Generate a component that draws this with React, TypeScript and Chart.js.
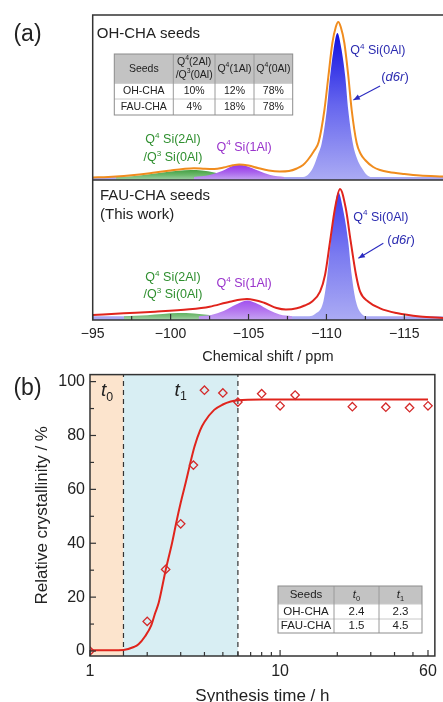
import React, { useEffect, useRef } from "react";
import { Chart, registerables } from "chart.js";
Chart.register(...registerables);

const FONT = 'Arial, "Liberation Sans", Helvetica, sans-serif';
const INK = "#222222";
const FRAME = "#333333";
const RED = "#e0241c";

// ---------- Panel (a): 29Si MAS NMR spectra, [ppm, intensity (a.u.)] ----------
type P = [number, number];
const OH_TOTAL: P[] = [
  [-95, 2.5], [-96, 3], [-97, 4], [-98, 5.5], [-99, 7.5], [-100, 9.5], [-100.8, 11], [-101.5, 11.8],
  [-102.2, 11.2], [-102.8, 11], [-103.4, 12.5], [-104, 14.8], [-104.4, 15.6], [-105, 14.5], [-105.6, 12],
  [-106.3, 9.5], [-107, 8.5], [-107.6, 9], [-108.1, 11.5], [-108.5, 15], [-108.8, 20], [-109.2, 29],
  [-109.5, 38], [-109.87, 70], [-110.12, 103], [-110.38, 137], [-110.6, 153], [-110.76, 158], [-110.92, 153],
  [-111.15, 137], [-111.41, 103], [-111.62, 70], [-111.94, 37], [-112.2, 26], [-112.48, 20], [-113, 13],
  [-113.44, 10], [-114, 8], [-115, 6], [-116, 4.5], [-117.5, 3.5],
];
const OH_SI0AL: P[] = [
  [-95, 3], [-108.4, 3], [-108.8, 5], [-109.16, 13], [-109.45, 25], [-109.7, 37], [-110.02, 70],
  [-110.23, 103], [-110.45, 130], [-110.7, 147], [-110.95, 132], [-111.21, 103], [-111.4, 70],
  [-111.69, 37], [-111.95, 22], [-112.27, 12], [-112.6, 5], [-112.9, 3], [-117.5, 3],
];
const OH_SI1AL: P[] = [
  [-101.5, 3], [-102.5, 5], [-103.3, 9], [-103.9, 13.5], [-104.3, 15.5], [-104.9, 13.8], [-105.6, 9.5],
  [-106.4, 5], [-107.3, 3],
];
const OH_SI2AL: P[] = [
  [-96.5, 3], [-97.5, 3.8], [-98.5, 5.5], [-99.5, 7.5], [-100.5, 9.3], [-101.3, 10], [-102, 9.5],
  [-102.8, 7.5], [-103.5, 5], [-104.3, 3.5], [-105, 3],
];
const FAU_TOTAL: P[] = [
  [-95, 5], [-97, 6.7], [-99, 8.3], [-101.2, 10.7], [-102.5, 13.3], [-103.8, 18.3], [-104.9, 21],
  [-106, 17.3], [-106.8, 12], [-107.4, 10.5], [-108.1, 11.7], [-108.6, 14.5], [-109.06, 18.3],
  [-109.59, 28.3], [-109.91, 45], [-110.23, 78.3], [-110.55, 111.7], [-110.87, 131], [-111.24, 111.7],
  [-111.56, 78.3], [-111.9, 45], [-112.16, 28.3], [-112.69, 18.3], [-113.44, 11.7], [-114.5, 7],
  [-116, 3.5], [-117.5, 2],
];
const FAU_SI0AL: P[] = [
  [-95, 3.8], [-108.9, 3.8], [-109.27, 6], [-109.8, 18.3], [-110.06, 45], [-110.27, 78.3], [-110.5, 108],
  [-110.76, 128], [-111.05, 112], [-111.4, 78.3], [-111.62, 45], [-111.9, 18.3], [-112.27, 6],
  [-112.6, 3.8], [-117.5, 3.8],
];
const FAU_SI1AL: P[] = [
  [-101.8, 3.8], [-102.6, 5], [-103.4, 9], [-104.2, 15.5], [-104.9, 19.5], [-105.6, 16], [-106.3, 10],
  [-107, 5.5], [-107.8, 3.8],
];
const FAU_SI2AL: P[] = [
  [-97, 3.8], [-98.5, 4.8], [-99.5, 6], [-100.5, 7], [-101.5, 6.6], [-102.5, 5], [-103.3, 3.8],
];
const TOP_OFFSET = 140; // vertical offset of the OH-CHA trace
const SPEC_Y_MAX = 305;
const PPM_LEFT = -95;
const PPM_RIGHT = -117.48;
const PPM_MAJOR = [-95, -100, -105, -110, -115];
const PPM_MINOR = [-97.5, -102.5, -107.5, -112.5];

const SEED_HEAD = ["Seeds", "Q^{4}(2Al)\n/Q^{3}(0Al)", "Q^{4}(1Al)", "Q^{4}(0Al)"];
const SEED_ROWS = [
  ["OH-CHA", "10%", "12%", "78%"],
  ["FAU-CHA", "4%", "18%", "78%"],
];

// ---------- Panel (b): crystallization kinetics ----------
const TIME_H = [1, 2, 2.5, 3, 3.5, 4, 5, 6, 8, 10, 12, 24, 36, 48, 60];
const CRYST = [0, 11, 30.3, 47.2, 69, 96.8, 95.8, 92.4, 95.5, 91, 95, 90.7, 90.5, 90.3, 91];
const FIT_T = [1, 1.3, 1.5, 1.7, 1.8, 1.95, 2.1, 2.2, 2.3, 2.5, 2.7, 2.85, 3.0, 3.2, 3.35, 3.55, 3.8, 4.0, 4.5, 5.0, 5.5, 6, 8, 15, 30, 60];
const FIT_Y = [0.3, 0.3, 0.4, 1.5, 2.5, 5.5, 9.5, 14, 18, 30, 40, 48, 55, 63, 69, 76, 82, 85, 89.5, 91.5, 92.6, 93.1, 93.4, 93.4, 93.4, 93.4];
const TIME_MAJOR = [1, 10, 60];
const TIME_MINOR = [2, 3, 4, 5, 6, 7, 8, 9, 20, 30, 40, 50];
const CRYST_MAJOR = [0, 20, 40, 60, 80, 100];
const CRYST_MINOR = [10, 30, 50, 70, 90];
const KIN_HEAD = ["Seeds", "*t*_{0}", "*t*_{1}"];
const KIN_ROWS = [
  ["OH-CHA", "2.4", "2.3"],
  ["FAU-CHA", "1.5", "4.5"],
];
const FAU_T0 = parseFloat(KIN_ROWS[1][1]);
const FAU_T1 = parseFloat(KIN_ROWS[1][2]);

// ---------- helpers ----------
type Seg = { t: string; sup?: boolean; sub?: boolean; it?: boolean };
function parseRich(s: string): Seg[] {
  const segs: Seg[] = [];
  let i = 0;
  let it = false;
  let buf = "";
  const flush = () => {
    if (buf) {
      segs.push({ t: buf, it });
      buf = "";
    }
  };
  while (i < s.length) {
    const c = s[i];
    if (c === "*") {
      flush();
      it = !it;
      i++;
      continue;
    }
    if ((c === "^" || c === "_") && s[i + 1] === "{") {
      flush();
      const end = s.indexOf("}", i);
      segs.push({ t: s.slice(i + 2, end), sup: c === "^", sub: c === "_", it: false });
      i = end + 1;
      continue;
    }
    buf += c;
    i++;
  }
  flush();
  return segs;
}

function drawRich(
  ctx: CanvasRenderingContext2D,
  text: string,
  x: number,
  y: number,
  size: number,
  color: string,
  align: "left" | "center" | "right" = "center"
) {
  const segs = parseRich(text);
  const font = (s: Seg) =>
    `${s.it ? "italic " : ""}${s.sup || s.sub ? size * 0.65 : size}px ${FONT}`;
  const widths = segs.map((s) => {
    ctx.font = font(s);
    return ctx.measureText(s.t).width;
  });
  const total = widths.reduce((a, b) => a + b, 0);
  let cx = align === "center" ? x - total / 2 : align === "right" ? x - total : x;
  ctx.save();
  ctx.fillStyle = color;
  ctx.textAlign = "left";
  ctx.textBaseline = "middle";
  segs.forEach((s, k) => {
    ctx.font = font(s);
    const dy = s.sup ? -size * 0.36 : s.sub ? size * 0.32 : 0;
    ctx.fillText(s.t, cx, y + dy);
    cx += widths[k];
  });
  ctx.restore();
}

function drawTable(
  ctx: CanvasRenderingContext2D,
  x0: number,
  y0: number,
  colW: number[],
  rowH: number[],
  head: string[],
  rows: string[][],
  headSize: number,
  size: number
) {
  const W = colW.reduce((a, b) => a + b, 0);
  const H = rowH.reduce((a, b) => a + b, 0);
  ctx.save();
  ctx.fillStyle = "#ffffff";
  ctx.fillRect(x0, y0, W, H);
  ctx.fillStyle = "#c3c3c3";
  ctx.fillRect(x0, y0, W, rowH[0]);
  ctx.lineWidth = 1;
  // row separators
  ctx.strokeStyle = "#c8c8c8";
  let yy = y0;
  for (let r = 0; r < rowH.length - 1; r++) {
    yy += rowH[r];
    ctx.beginPath();
    ctx.moveTo(x0, yy);
    ctx.lineTo(x0 + W, yy);
    ctx.stroke();
  }
  // column separators
  ctx.strokeStyle = "#9a9a9a";
  let xx = x0;
  for (let c = 0; c < colW.length - 1; c++) {
    xx += colW[c];
    ctx.beginPath();
    ctx.moveTo(xx, y0);
    ctx.lineTo(xx, y0 + H);
    ctx.stroke();
  }
  ctx.strokeStyle = "#8c8c8c";
  ctx.strokeRect(x0, y0, W, H);
  // header text
  let cx = x0;
  head.forEach((h, c) => {
    const lines = h.split("\n");
    const mid = cx + colW[c] / 2;
    const cy = y0 + rowH[0] / 2;
    const lh = headSize * 1.2;
    lines.forEach((ln, k) => {
      drawRich(ctx, ln, mid, cy + (k - (lines.length - 1) / 2) * lh, headSize, INK);
    });
    cx += colW[c];
  });
  // body
  let ry = y0 + rowH[0];
  rows.forEach((row, r) => {
    let bx = x0;
    row.forEach((cell, c) => {
      drawRich(ctx, cell, bx + colW[c] / 2, ry + rowH[r + 1] / 2, size, INK);
      bx += colW[c];
    });
    ry += rowH[r + 1];
  });
  ctx.restore();
}

const fmtMinus = (v: number) => (v < 0 ? "\u2212" + Math.abs(v) : String(v));

function vGrad(top: number, bottom: number, c0: string, c1: string, c2: string) {
  return (context: any) => {
    const chart = context.chart;
    if (!chart.chartArea) return c2;
    const ys = chart.scales.y;
    const g = chart.ctx.createLinearGradient(0, ys.getPixelForValue(top), 0, ys.getPixelForValue(bottom));
    g.addColorStop(0, c0);
    g.addColorStop(0.5, c1);
    g.addColorStop(1, c2);
    return g;
  };
}

const pts = (arr: P[], off: number) => arr.map(([x, v]) => ({ x, y: v + off }));
const fillSet = (label: string, arr: P[], off: number, bg: any, order: number) => ({
  label,
  data: pts(arr, off),
  borderWidth: 0,
  borderColor: "rgba(0,0,0,0)",
  backgroundColor: bg,
  fill: { value: off },
  pointRadius: 0,
  cubicInterpolationMode: "monotone",
  order,
});
const lineSet = (label: string, arr: P[], off: number, color: string) => ({
  label,
  data: pts(arr, off),
  borderColor: color,
  borderWidth: 2,
  fill: false,
  pointRadius: 0,
  cubicInterpolationMode: "monotone",
  order: 0,
});

// annotations for panel (a), in data coordinates
const SPEC_TEXT: { t: string; ppm: number; v: number; size: number; color: string; align: "left" | "center" }[] = [
  { t: "OH-CHA seeds", ppm: -95.26, v: 286.5, size: 15, color: INK, align: "left" },
  { t: "FAU-CHA seeds", ppm: -95.47, v: 124, size: 15, color: INK, align: "left" },
  { t: "(This work)", ppm: -95.47, v: 105, size: 15, color: INK, align: "left" },
  { t: "Q^{4} Si(0Al)", ppm: -113.3, v: 269, size: 12.5, color: "#2b2bb0", align: "center" },
  { t: "(*d6r*)", ppm: -114.4, v: 242.5, size: 13, color: "#2b2bb0", align: "center" },
  { t: "Q^{4} Si(2Al)", ppm: -100.15, v: 180, size: 12.5, color: "#2f8f2f", align: "center" },
  { t: "/Q^{3} Si(0Al)", ppm: -100.15, v: 162, size: 12.5, color: "#2f8f2f", align: "center" },
  { t: "Q^{4} Si(1Al)", ppm: -104.72, v: 172.5, size: 12.5, color: "#9933cc", align: "center" },
  { t: "Q^{4} Si(0Al)", ppm: -113.49, v: 102.5, size: 12.5, color: "#2b2bb0", align: "center" },
  { t: "(*d6r*)", ppm: -114.79, v: 79.5, size: 13, color: "#2b2bb0", align: "center" },
  { t: "Q^{4} Si(2Al)", ppm: -100.15, v: 42, size: 12.5, color: "#2f8f2f", align: "center" },
  { t: "/Q^{3} Si(0Al)", ppm: -100.15, v: 25, size: 12.5, color: "#2f8f2f", align: "center" },
  { t: "Q^{4} Si(1Al)", ppm: -104.72, v: 36, size: 12.5, color: "#9933cc", align: "center" },
];
const SPEC_ARROWS: [number, number, number, number][] = [
  [-113.44, 234, -111.73, 220],
  [-113.65, 76.7, -112.05, 61.7],
];

function arrow(ctx: CanvasRenderingContext2D, x1: number, y1: number, x2: number, y2: number, color: string) {
  ctx.save();
  ctx.strokeStyle = color;
  ctx.fillStyle = color;
  ctx.lineWidth = 1.1;
  ctx.beginPath();
  ctx.moveTo(x1, y1);
  ctx.lineTo(x2, y2);
  ctx.stroke();
  const a = Math.atan2(y2 - y1, x2 - x1);
  const L = 7;
  ctx.beginPath();
  ctx.moveTo(x2, y2);
  ctx.lineTo(x2 - L * Math.cos(a - 0.4), y2 - L * Math.sin(a - 0.4));
  ctx.lineTo(x2 - L * Math.cos(a + 0.4), y2 - L * Math.sin(a + 0.4));
  ctx.closePath();
  ctx.fill();
  ctx.restore();
}

const specPlugin = {
  id: "specDecor",
  afterDatasetsDraw(chart: any) {
    const { ctx, chartArea: a, scales } = chart;
    const xs = scales.x;
    const ys = scales.y;
    ctx.save();
    ctx.strokeStyle = FRAME;
    ctx.lineWidth = 1.5;
    const yDiv = ys.getPixelForValue(TOP_OFFSET);
    ctx.beginPath();
    ctx.moveTo(a.right + 2, a.top);
    ctx.lineTo(a.left, a.top);
    ctx.lineTo(a.left, a.bottom);
    ctx.lineTo(a.right + 2, a.bottom);
    ctx.moveTo(a.left, yDiv);
    ctx.lineTo(a.right + 2, yDiv);
    ctx.stroke();
    ctx.lineWidth = 1.2;
    const tick = (v: number, len: number) => {
      const x = xs.getPixelForValue(v);
      ctx.beginPath();
      ctx.moveTo(x, a.bottom);
      ctx.lineTo(x, a.bottom - len);
      ctx.stroke();
    };
    PPM_MAJOR.forEach((v) => tick(v, 6));
    PPM_MINOR.forEach((v) => tick(v, 4));
    ctx.restore();
  },
  afterDraw(chart: any) {
    const { ctx, scales } = chart;
    const xs = scales.x;
    const ys = scales.y;
    SPEC_TEXT.forEach((s) =>
      drawRich(ctx, s.t, xs.getPixelForValue(s.ppm), ys.getPixelForValue(s.v), s.size, s.color, s.align)
    );
    SPEC_ARROWS.forEach(([p1, v1, p2, v2]) =>
      arrow(ctx, xs.getPixelForValue(p1), ys.getPixelForValue(v1), xs.getPixelForValue(p2), ys.getPixelForValue(v2), "#2b2bc0")
    );
    drawTable(ctx, 114.3, 54, [59, 41.7, 39, 38.7], [29.3, 15.7, 16], SEED_HEAD, SEED_ROWS, 10.5, 10.5);
    drawRich(ctx, "(a)", 27.5, 35, 23, INK);
  },
};

const kinPlugin = {
  id: "kinDecor",
  beforeDatasetsDraw(chart: any) {
    const { ctx, chartArea: a, scales } = chart;
    const xs = scales.x;
    const x0 = xs.getPixelForValue(TIME_MAJOR[0]);
    const x1 = xs.getPixelForValue(FAU_T0);
    const x2 = xs.getPixelForValue(FAU_T0 + FAU_T1);
    ctx.save();
    ctx.fillStyle = "#fce4cd";
    ctx.fillRect(x0, a.top, x1 - x0, a.bottom - a.top);
    ctx.fillStyle = "#d8eef3";
    ctx.fillRect(x1, a.top, x2 - x1, a.bottom - a.top);
    ctx.strokeStyle = "#333";
    ctx.lineWidth = 1.2;
    ctx.setLineDash([5, 4]);
    [x1, x2].forEach((x) => {
      ctx.beginPath();
      ctx.moveTo(x, a.bottom);
      ctx.lineTo(x, a.top);
      ctx.stroke();
    });
    ctx.restore();
  },
  afterDatasetsDraw(chart: any) {
    const { ctx, chartArea: a, scales } = chart;
    const xs = scales.x;
    const ys = scales.y;
    ctx.save();
    ctx.strokeStyle = FRAME;
    ctx.lineWidth = 1.5;
    ctx.strokeRect(a.left, a.top, a.right - a.left, a.bottom - a.top);
    ctx.lineWidth = 1.2;
    const xt = (v: number, len: number) => {
      const x = xs.getPixelForValue(v);
      ctx.beginPath();
      ctx.moveTo(x, a.bottom);
      ctx.lineTo(x, a.bottom - len);
      ctx.stroke();
    };
    const yt = (v: number, len: number) => {
      const y = ys.getPixelForValue(v);
      ctx.beginPath();
      ctx.moveTo(a.left, y);
      ctx.lineTo(a.left + len, y);
      ctx.stroke();
    };
    TIME_MAJOR.forEach((v) => xt(v, 6));
    TIME_MINOR.forEach((v) => xt(v, 4));
    CRYST_MAJOR.forEach((v) => yt(v, 6));
    CRYST_MINOR.forEach((v) => yt(v, 4));
    ctx.restore();
  },
  afterDraw(chart: any) {
    const { ctx, scales } = chart;
    const xs = scales.x;
    const ys = scales.y;
    drawRich(ctx, "*t*_{0}", xs.getPixelForValue(1.23), ys.getPixelForValue(96.5), 19, INK);
    drawRich(ctx, "*t*_{1}", xs.getPixelForValue(3.0), ys.getPixelForValue(96.8), 19, INK);
    drawTable(ctx, 278, 226, [56, 45, 43], [18, 15, 14], KIN_HEAD, KIN_ROWS, 11.5, 11.5);
    drawRich(ctx, "(b)", 27.5, 29, 23, INK);
  },
};

export default function App() {
  const refA = useRef<HTMLCanvasElement>(null);
  const refB = useRef<HTMLCanvasElement>(null);

  useEffect(() => {
    document.body.style.margin = "0";
    document.body.style.overflow = "hidden";

    const topBlue = vGrad(TOP_OFFSET + 150, TOP_OFFSET, "#0c0ce0", "#6666ee", "#ababf4");
    const botBlue = vGrad(130, 0, "#3c3cf0", "#7b7bf0", "#ababf4");
    const topPurp = vGrad(TOP_OFFSET + 16, TOP_OFFSET, "#9530e8", "#a860ec", "#c4a4f2");
    const botPurp = vGrad(20, 0, "#a050ee", "#b474ef", "#c4a4f2");
    const topGreen = vGrad(TOP_OFFSET + 10, TOP_OFFSET, "#45a045", "#6bb86b", "#a0d0a8");
    const botGreen = vGrad(7, 0, "#62b262", "#80c080", "#a8d4b0");

    const chartA = new Chart(refA.current as HTMLCanvasElement, {
      type: "line",
      data: {
        datasets: [
          lineSet("OH-CHA", OH_TOTAL, TOP_OFFSET, "#f08c1e"),
          lineSet("FAU-CHA", FAU_TOTAL, 0, RED),
          fillSet("OH Si(1Al)", OH_SI1AL, TOP_OFFSET, topPurp, 2),
          fillSet("OH Si(2Al)", OH_SI2AL, TOP_OFFSET, topGreen, 3),
          fillSet("OH Si(0Al)", OH_SI0AL, TOP_OFFSET, topBlue, 4),
          fillSet("FAU Si(1Al)", FAU_SI1AL, 0, botPurp, 2),
          fillSet("FAU Si(2Al)", FAU_SI2AL, 0, botGreen, 3),
          fillSet("FAU Si(0Al)", FAU_SI0AL, 0, botBlue, 4),
        ] as any,
      },
      options: {
        animation: false,
        responsive: false,
        devicePixelRatio: 1,
        events: [],
        layout: { padding: { left: 92.7, top: 15, right: 0, bottom: 0 } },
        plugins: { legend: { display: false }, tooltip: { enabled: false } },
        scales: {
          x: {
            type: "linear",
            reverse: true,
            min: PPM_RIGHT,
            max: PPM_LEFT,
            afterFit: (s: any) => {
              s.height = 50;
            },
            afterBuildTicks: (s: any) => {
              s.ticks = PPM_MAJOR.map((v) => ({ value: v }));
            },
            ticks: {
              callback: (v: any) => fmtMinus(Number(v)),
              font: { family: FONT, size: 14 },
              color: INK,
              padding: 6,
              maxRotation: 0,
              autoSkip: false,
            },
            grid: { display: false, drawTicks: false },
            border: { display: false },
            title: {
              display: true,
              text: "Chemical shift / ppm",
              font: { family: FONT, size: 14.5 },
              color: INK,
              padding: { top: 0, bottom: 4 },
            },
          },
          y: { display: false, min: 0, max: SPEC_Y_MAX },
        },
      } as any,
      plugins: [specPlugin],
    });

    const chartB = new Chart(refB.current as HTMLCanvasElement, {
      type: "line",
      data: {
        datasets: [
          {
            label: "fit",
            data: FIT_T.map((t, i) => ({ x: t, y: FIT_Y[i] })),
            borderColor: RED,
            borderWidth: 2,
            pointRadius: 0,
            fill: false,
            cubicInterpolationMode: "monotone",
            order: 1,
          },
          {
            label: "exp",
            type: "scatter",
            data: TIME_H.map((t, i) => ({ x: t, y: CRYST[i] })),
            showLine: false,
            pointStyle: "rectRot",
            pointRadius: 4.2,
            borderColor: "#d42a2a",
            backgroundColor: "rgba(0,0,0,0)",
            borderWidth: 1.3,
            order: 0,
          },
        ] as any,
      },
      options: {
        animation: false,
        responsive: false,
        devicePixelRatio: 1,
        events: [],
        layout: { padding: { left: 0, top: 13, right: 1, bottom: 0 } },
        plugins: { legend: { display: false }, tooltip: { enabled: false } },
        scales: {
          x: {
            type: "logarithmic",
            min: 1,
            max: 65.2,
            afterFit: (s: any) => {
              s.height = 54;
            },
            afterBuildTicks: (s: any) => {
              s.ticks = TIME_MAJOR.map((v) => ({ value: v }));
            },
            ticks: {
              callback: (v: any) => String(v),
              font: { family: FONT, size: 16 },
              color: INK,
              padding: 6,
              maxRotation: 0,
              autoSkip: false,
            },
            grid: { display: false, drawTicks: false },
            border: { display: false },
            title: {
              display: true,
              text: "Synthesis time / h",
              font: { family: FONT, size: 17 },
              color: INK,
              padding: { top: 0, bottom: 3 },
            },
          },
          y: {
            type: "linear",
            min: -1.85,
            max: 102.6,
            afterFit: (s: any) => {
              s.width = 90;
            },
            afterBuildTicks: (s: any) => {
              s.ticks = CRYST_MAJOR.map((v) => ({ value: v }));
            },
            ticks: {
              font: { family: FONT, size: 16 },
              color: INK,
              padding: 5,
            },
            grid: { display: false, drawTicks: false },
            border: { display: false },
            title: {
              display: true,
              text: "Relative crystallinity / %",
              font: { family: FONT, size: 17 },
              color: INK,
              padding: { top: 32, bottom: 0 },
            },
          },
        },
      } as any,
      plugins: [kinPlugin],
    });

    return () => {
      chartA.destroy();
      chartB.destroy();
    };
  }, []);

  return (
    <div style={{ position: "relative", width: 443, height: 702, overflow: "hidden", background: "#fff" }}>
      <canvas ref={refA} width={443} height={370} style={{ position: "absolute", left: 0, top: 0, display: "block" }} />
      <canvas ref={refB} width={443} height={350} style={{ position: "absolute", left: 0, top: 360, display: "block" }} />
    </div>
  );
}
